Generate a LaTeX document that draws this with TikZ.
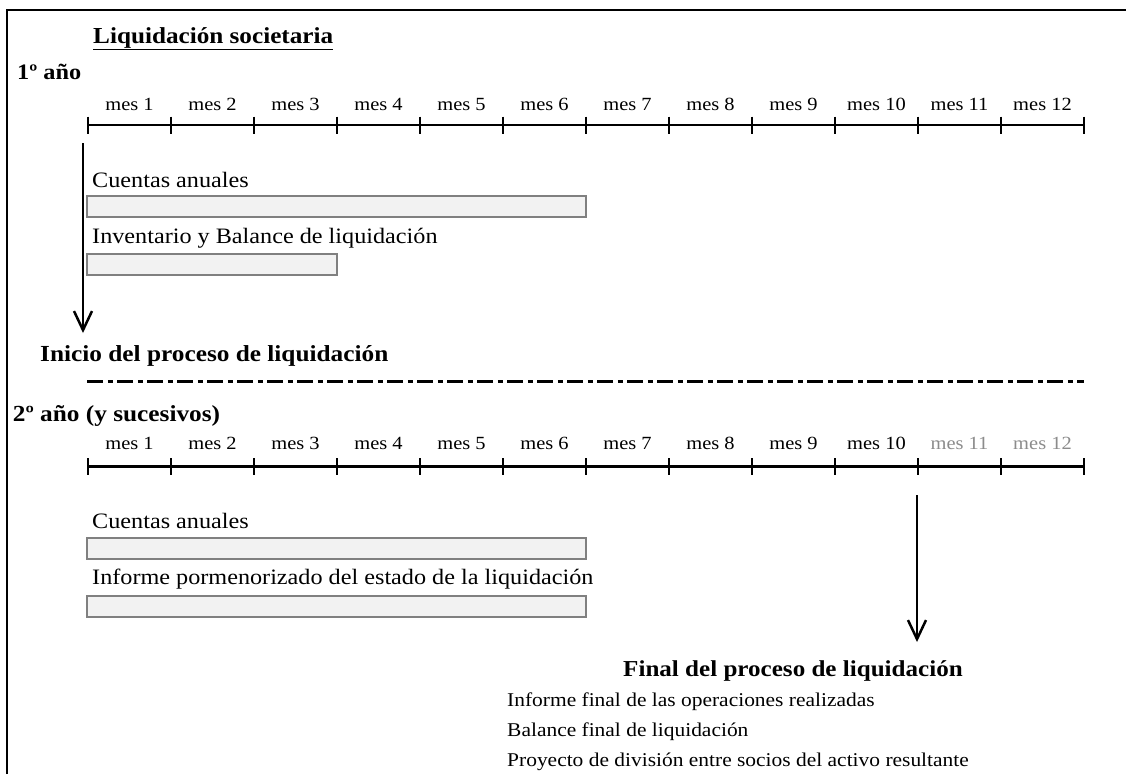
\documentclass[tikz,border=0pt]{standalone}
\usepackage{fontspec}
\setmainfont{Liberation Serif}[FakeStretch=1.1]
\usetikzlibrary{arrows.meta}

\definecolor{barfill}{RGB}{242,242,242}
\definecolor{barline}{RGB}{128,128,128}
\definecolor{mesgris}{RGB}{140,140,140}

\tikzset{
  mes/.style={anchor=base,inner sep=0pt,font=\fontsize{18.6}{22}\selectfont},
  tarea/.style={anchor=base west,inner sep=0pt,font=\fontsize{22}{26}\selectfont},
  hito/.style={anchor=base west,inner sep=0pt,font=\bfseries\fontsize{23}{27}\selectfont},
  lista/.style={anchor=base west,inner sep=0pt,font=\fontsize{19.5}{23}\selectfont},
  barra/.style={draw=barline,fill=barfill,line width=2pt},
  eje/.style={line width=2.5pt},
  flecha/.style={line width=2.5pt,-{Straight Barb[length=19pt,width=18pt,line width=2.5pt]}},
}

\begin{document}
\begin{tikzpicture}[x=1pt,y=1pt,yscale=-1]
\useasboundingbox (0,0) rectangle (1126,774);

%Frame
\draw[line width=2pt] (6.5,774) -- (6.5,9.5) -- (1126,9.5) ;

% Text Node
\node[hito,font=\bfseries\fontsize{22.9}{27}\selectfont] (titulo) at (93,43) {\underline{Liquidación societaria}};
% Text Node
\node[hito,font=\bfseries\fontsize{22.1}{26}\selectfont] (anio1) at (17,79) {1º año};

% Months, year 1
\node[mes] (m1a) at (129.5,110) {mes 1};
\node[mes] (m2a) at (212.5,110) {mes 2};
\node[mes] (m3a) at (295.5,110) {mes 3};
\node[mes] (m4a) at (378.5,110) {mes 4};
\node[mes] (m5a) at (461.5,110) {mes 5};
\node[mes] (m6a) at (544.5,110) {mes 6};
\node[mes] (m7a) at (627.5,110) {mes 7};
\node[mes] (m8a) at (710.5,110) {mes 8};
\node[mes] (m9a) at (793.5,110) {mes 9};
\node[mes] (m10a) at (876.5,110) {mes 10};
\node[mes] (m11a) at (959.5,110) {mes 11};
\node[mes] (m12a) at (1042.5,110) {mes 12};

%Time line, year 1
\draw[eje] (88,125) -- (1084,125) ;
\draw[eje] (88,116.5) -- (88,133.5) (171,116.5) -- (171,133.5) (254,116.5) -- (254,133.5)
  (337,116.5) -- (337,133.5) (420,116.5) -- (420,133.5) (503,116.5) -- (503,133.5)
  (586,116.5) -- (586,133.5) (669,116.5) -- (669,133.5) (752,116.5) -- (752,133.5)
  (835,116.5) -- (835,133.5) (918,116.5) -- (918,133.5) (1001,116.5) -- (1001,133.5)
  (1084,116.5) -- (1084,133.5) ;

% Text Node
\node[tarea] (cuentas1) at (92,187) {Cuentas anuales};
%Shape: Rectangle
\draw[barra] (87,196) rectangle (586,217) ;
% Text Node
\node[tarea] (inventario) at (92,243) {Inventario y Balance de liquidación};
%Shape: Rectangle
\draw[barra] (87,254) rectangle (337,275) ;

%Arrow: start
\coordinate (ini1) at (83,143);
\coordinate (ini2) at (83,333);
\draw[flecha] (ini1) -- (ini2) ;
% Text Node
\node[hito] (inicio) at (40,361) {Inicio del proceso de liquidación};

%Dash dot line
\draw[line width=3pt,dash pattern=on 15.5pt off 5pt on 5pt off 4.5pt] (87,381.5) -- (1084,381.5) ;

% Text Node
\node[hito] (anio2) at (12.7,421) {2º año (y sucesivos)};

% Months, year 2
\node[mes] (m1b) at (129.5,449) {mes 1};
\node[mes] (m2b) at (212.5,449) {mes 2};
\node[mes] (m3b) at (295.5,449) {mes 3};
\node[mes] (m4b) at (378.5,449) {mes 4};
\node[mes] (m5b) at (461.5,449) {mes 5};
\node[mes] (m6b) at (544.5,449) {mes 6};
\node[mes] (m7b) at (627.5,449) {mes 7};
\node[mes] (m8b) at (710.5,449) {mes 8};
\node[mes] (m9b) at (793.5,449) {mes 9};
\node[mes] (m10b) at (876.5,449) {mes 10};
\node[mes,text=mesgris] (m11b) at (959.5,449) {mes 11};
\node[mes,text=mesgris] (m12b) at (1042.5,449) {mes 12};

%Time line, year 2
\draw[eje] (88,466.5) -- (1084,466.5) ;
\draw[eje] (88,458) -- (88,475) (171,458) -- (171,475) (254,458) -- (254,475)
  (337,458) -- (337,475) (420,458) -- (420,475) (503,458) -- (503,475)
  (586,458) -- (586,475) (669,458) -- (669,475) (752,458) -- (752,475)
  (835,458) -- (835,475) (918,458) -- (918,475) (1001,458) -- (1001,475)
  (1084,458) -- (1084,475) ;

% Text Node
\node[tarea] (cuentas2) at (92,528.5) {Cuentas anuales};
%Shape: Rectangle
\draw[barra] (87,537.5) rectangle (586,558.5) ;
% Text Node
\node[tarea] (informe) at (92,584.5) {Informe pormenorizado del estado de la liquidación};
%Shape: Rectangle
\draw[barra] (87,595.5) rectangle (586,616.5) ;

%Arrow: end
\coordinate (fin1) at (917,495);
\coordinate (fin2) at (917,642);
\draw[flecha] (fin1) -- (fin2) ;
% Text Node
\node[hito,font=\bfseries\fontsize{22.8}{27}\selectfont] (final) at (623,676) {Final del proceso de liquidación};
% Text Node
\node[lista] (doc1) at (507,706.5) {Informe final de las operaciones realizadas};
\node[lista] (doc2) at (507,736.5) {Balance final de liquidación};
\node[lista] (doc3) at (507,766.5) {Proyecto de división entre socios del activo resultante};

\end{tikzpicture}
\end{document}
